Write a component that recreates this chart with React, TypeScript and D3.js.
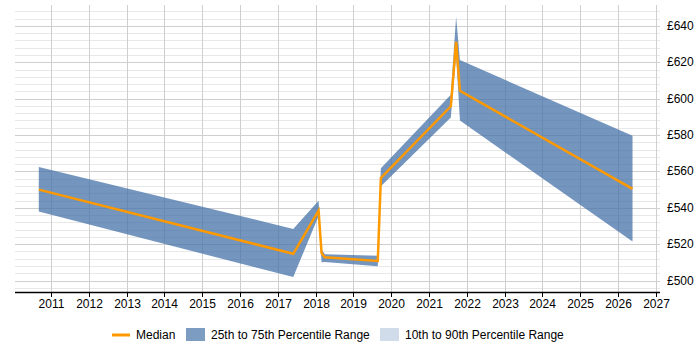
import React from "react";
import * as d3 from "d3";

// Observation dates with the percentile values at each
const dates = [
  "2010-09-05", "2017-05-30", "2018-01-30", "2018-02-28", "2018-04-01",
  "2019-08-25", "2019-09-24", "2021-07-31", "2021-09-20", "2021-10-27", "2026-05-22",
];
const median = [550, 514.7, 538.4, 515, 512.8, 510.8, 556.4, 595.8, 631.2, 604.3, 550.4];
const p25 = [537.9, 501.9, 535.5, 510, 510.2, 507.8, 551.8, 589.7, 624, 588, 521.4];
const p75 = [562.4, 528.4, 543.9, 517, 514.5, 513.6, 561.7, 602.1, 645, 621.2, 579.6];

const yearTicks = d3.range(2011, 2028);
const priceTicks = [500, 520, 540, 560, 580, 600, 620, 640];
const minorTicks = d3.range(496, 652, 4);

const legendItems = ["Median", "25th to 75th Percentile Range", "10th to 90th Percentile Range"];

const W = 700;
const H = 350;
const left = 15;
const right = 660;
const top = 5;
const bottom = 292;

export default function App() {
  const parse = d3.timeParse("%Y-%m-%d");
  const rows = dates.map((d, i) => ({
    date: parse(d) as Date,
    med: median[i],
    lo: p25[i],
    hi: p75[i],
  }));

  const x = d3
    .scaleTime()
    .domain([new Date(2011, 0, 1), new Date(2027, 0, 1)])
    .range([51, 655.7]);
  const y = d3.scaleLinear().domain([493.7, 651.5]).range([bottom, top]);

  const area = d3
    .area<(typeof rows)[number]>()
    .x((d) => x(d.date))
    .y0((d) => y(d.lo))
    .y1((d) => y(d.hi));
  const line = d3
    .line<(typeof rows)[number]>()
    .x((d) => x(d.date))
    .y((d) => y(d.med));

  const font = "'Liberation Sans', Arial, sans-serif";

  return (
    <svg
      width={W}
      height={H}
      style={{ position: "absolute", left: 0, top: 0, fontFamily: font }}
    >
      <rect width={W} height={H} fill="#fff" />
      {/* minor horizontal grid */}
      {minorTicks.map((v) => (
        <line
          key={"m" + v}
          x1={left}
          x2={right}
          y1={Math.round(y(v)) + 0.5}
          y2={Math.round(y(v)) + 0.5}
          stroke="#e8e8e8"
          strokeWidth={1}
        />
      ))}
      {/* major horizontal grid */}
      {priceTicks.map((v) => (
        <line
          key={"p" + v}
          x1={left}
          x2={right}
          y1={Math.round(y(v)) + 0.5}
          y2={Math.round(y(v)) + 0.5}
          stroke="#cfcfcf"
          strokeWidth={1}
        />
      ))}
      {/* vertical grid */}
      {yearTicks.map((yr) => {
        const px = Math.round(x(new Date(yr, 0, 1))) + 0.5;
        return (
          <line key={"v" + yr} x1={px} x2={px} y1={top} y2={bottom} stroke="#cfcfcf" strokeWidth={1} />
        );
      })}

      <path d={area(rows) ?? ""} fill="#4572A7" fillOpacity={0.75} />
      <path
        d={line(rows) ?? ""}
        fill="none"
        stroke="#FF9900"
        strokeWidth={2.5}
        strokeLinejoin="miter"
      />

      {/* x axis */}
      <line x1={left} x2={right} y1={bottom + 0.5} y2={bottom + 0.5} stroke="#000" strokeWidth={1.5} />
      {yearTicks.map((yr) => {
        const px = Math.round(x(new Date(yr, 0, 1))) + 0.5;
        return (
          <g key={"t" + yr}>
            <line x1={px} x2={px} y1={bottom} y2={bottom + 5} stroke="#000" strokeWidth={1} />
            <text x={px} y={308} textAnchor="middle" fontSize={12} fill="#000">
              {yr}
            </text>
          </g>
        );
      })}

      {/* y labels */}
      {priceTicks.map((v) => (
        <text key={"yl" + v} x={667} y={y(v) + 4} fontSize={12} fill="#000">
          £{v}
        </text>
      ))}

      {/* legend */}
      <line x1={112} x2={130} y1={335} y2={335} stroke="#FF9900" strokeWidth={3} />
      <text x={136} y={339} fontSize={12} fill="#000">
        {legendItems[0]}
      </text>
      <rect x={186} y={328} width={19} height={13} fill="#4572A7" fillOpacity={0.7} />
      <text x={211} y={339} fontSize={12} fill="#000">
        {legendItems[1]}
      </text>
      <rect x={380} y={328} width={19} height={13} fill="#4572A7" fillOpacity={0.25} />
      <text x={405} y={339} fontSize={12} fill="#000">
        {legendItems[2]}
      </text>
    </svg>
  );
}
